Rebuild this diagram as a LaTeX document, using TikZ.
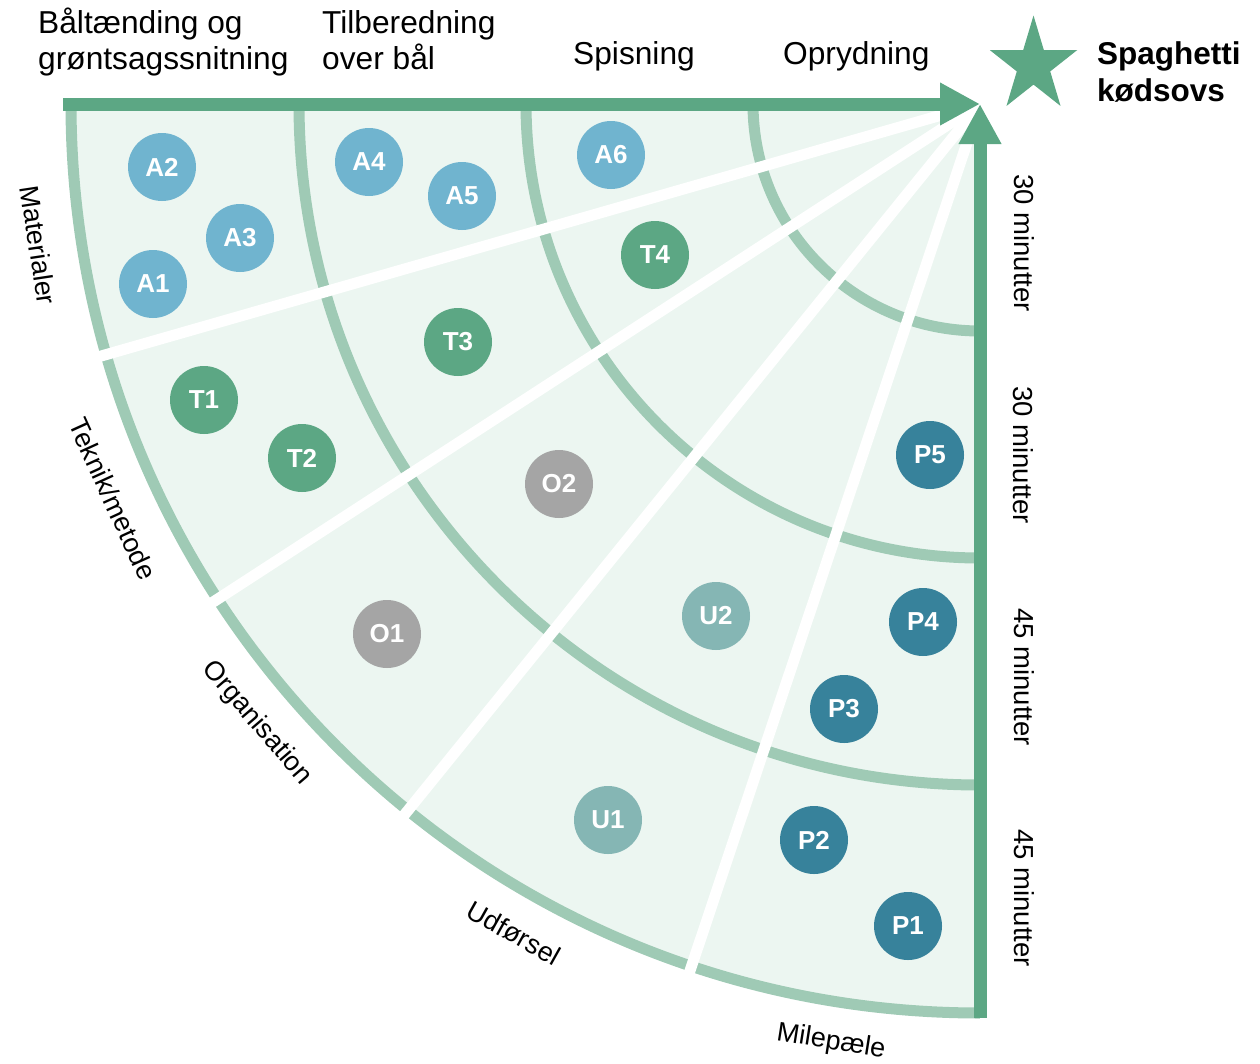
\documentclass[tikz,border=0pt]{standalone}
\usepackage{fontspec}
\setmainfont{Liberation Sans}
\usetikzlibrary{arrows.meta}
\definecolor{axisgreen}{HTML}{5CA784}
\definecolor{arcgreen}{HTML}{9FCAB5}
\definecolor{fillgreen}{HTML}{ECF6F1}
\definecolor{mblue}{HTML}{70B4CF}
\definecolor{tgreen}{HTML}{5CA784}
\definecolor{ogrey}{HTML}{A5A5A5}
\definecolor{uteal}{HTML}{85B6B4}
\definecolor{pteal}{HTML}{37829B}
\tikzset{
  axisarrow/.style={draw=axisgreen, line width=13pt, -{Triangle[length=40pt,width=40pt]}},
  arcline/.style={draw=arcgreen, line width=11pt},
  divider/.style={draw=white, line width=11pt},
  item/.style={circle, minimum size=68pt, inner sep=0pt, text=white, font=\bfseries\fontsize{26}{30}\selectfont},
  toplabel/.style={inner sep=0pt, anchor=base west, font=\fontsize{31.7}{35}\selectfont},
  sidelabel/.style={inner sep=0pt, font=\fontsize{27}{32}\selectfont},
  timelabel/.style={inner sep=0pt, rotate=-90, font=\fontsize{27.5}{32}\selectfont},
}
\newcommand{\twolines}[3]{\vtop{\baselineskip=#1pt\lineskiplimit=-100pt\hbox{#2}\hbox{#3}}}
\begin{document}
\begin{tikzpicture}[x=1pt,y=-1pt]
\useasboundingbox (0,0) rectangle (1260,1063);
\coordinate (O) at (980,104);
\coordinate (topstart) at (63,104);
\coordinate (botstart) at (980,1018);
% background sector
\fill[fillgreen] (O) -- ++(180:909) arc[start angle=180,end angle=90,radius=909] -- cycle;
% time arcs
\foreach \r in {227,454,681,909}
  \draw[arcline] (O) ++(180:\r) arc[start angle=180,end angle=90,radius=\r];
% category dividers
\foreach \a in {16,33,51,71.5}
  \draw[divider] (O) -- ++({180-\a}:922);
% axes
\draw[axisarrow] (topstart) -- (O);
\draw[axisarrow] (botstart) -- (O);
% star
\fill[axisgreen, shift={(1033.5,65.5)}, xscale=0.92]
  (-90:50) -- (-54:19.1) -- (-18:50) -- (18:19.1) -- (54:50) -- (90:19.1)
  -- (126:50) -- (162:19.1) -- (198:50) -- (234:19.1) -- cycle;
% top labels
\node[toplabel] (ph1) at (38,33) {\twolines{36.5}{Båltænding og}{grøntsagssnitning}};
\node[toplabel] (ph2) at (322,33) {\twolines{36.5}{Tilberedning}{over bål}};
\node[toplabel] (ph3) at (573,64) {Spisning};
\node[toplabel] (ph4) at (783,64) {Oprydning};
\node[toplabel, font=\bfseries\fontsize{31.5}{37}\selectfont] (goal) at (1097,64) {\twolines{37}{Spaghetti}{kødsovs}};
% side labels
\node[sidelabel, rotate=-81.4] (cat1) at (38.5,245) {Materialer};
\node[sidelabel, rotate=-65.5] (cat2) at (113,499) {Teknik/metode};
\node[sidelabel, rotate=-49.4] (cat3) at (257,723) {Organisation};
\node[sidelabel, rotate=-29.3] (cat4) at (514,933) {Udførsel};
\node[sidelabel, rotate=-8.9] (cat5) at (831,1042) {Milepæle};
% time labels
\node[timelabel] (t1) at (1024,243) {30 minutter};
\node[timelabel] (t2) at (1023,455) {30 minutter};
\node[timelabel] (t3) at (1024,677) {45 minutter};
\node[timelabel] (t4) at (1024,898) {45 minutter};
% items
\node[item, fill=mblue] (A1) at (153,284) {A1};
\node[item, fill=mblue] (A2) at (162,167) {A2};
\node[item, fill=mblue] (A3) at (240,238) {A3};
\node[item, fill=mblue] (A4) at (369,162) {A4};
\node[item, fill=mblue] (A5) at (462,196) {A5};
\node[item, fill=mblue] (A6) at (611,155) {A6};
\node[item, fill=tgreen] (T1) at (204,400) {T1};
\node[item, fill=tgreen] (T2) at (302,458) {T2};
\node[item, fill=tgreen] (T3) at (458,342) {T3};
\node[item, fill=tgreen] (T4) at (655,255) {T4};
\node[item, fill=ogrey] (O1) at (387,634) {O1};
\node[item, fill=ogrey] (O2) at (559,484) {O2};
\node[item, fill=uteal] (U1) at (608,820) {U1};
\node[item, fill=uteal] (U2) at (716,616) {U2};
\node[item, fill=pteal] (P1) at (908,926) {P1};
\node[item, fill=pteal] (P2) at (814,840) {P2};
\node[item, fill=pteal] (P3) at (844,709) {P3};
\node[item, fill=pteal] (P4) at (923,622) {P4};
\node[item, fill=pteal] (P5) at (930,455) {P5};
\end{tikzpicture}
\end{document}
